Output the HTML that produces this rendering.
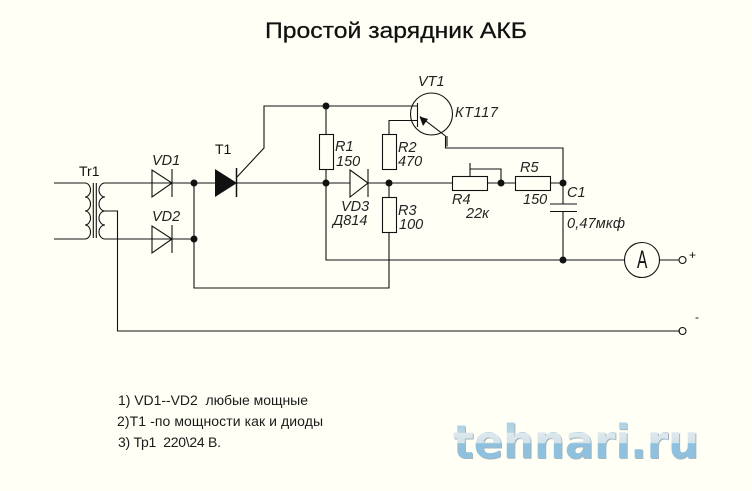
<!DOCTYPE html>
<html><head><meta charset="utf-8"><style>html,body{margin:0;padding:0;background:#fffff6}svg{display:block}text{font-family:"Liberation Sans",sans-serif;fill:#111}.i{font-style:italic;font-size:14.5px;fill:#222}.n{font-size:14px;fill:#1a1a1a;white-space:pre}</style></head><body>
<svg width="752" height="491" viewBox="0 0 752 491" xmlns="http://www.w3.org/2000/svg">
<defs><linearGradient id="g" x1="0" y1="420" x2="0" y2="459" gradientUnits="userSpaceOnUse"><stop offset="0" stop-color="#a9cfe3"/><stop offset=".32" stop-color="#b6d5e4"/><stop offset=".34" stop-color="#dde8ec"/><stop offset=".59" stop-color="#d3e3ea"/><stop offset=".6" stop-color="#8fc1df"/><stop offset="1" stop-color="#8fc1df"/></linearGradient></defs>
<rect width="752" height="491" fill="#fffff6"/>
<text x="265" y="38" font-size="22" textLength="262" lengthAdjust="spacingAndGlyphs" stroke="#111" stroke-width=".25">Простой зарядник АКБ</text>
<g fill="none" stroke="#111" stroke-width="1.1">
<path d="M54 183H85A5.5 7 0 0 1 85 197A5.5 7 0 0 1 85 211A5.5 7 0 0 1 85 225A5.5 7 0 0 1 85 239H54"/>
<path d="M93.300 183V238M96.300 183V238"/>
<path d="M105 183A6 7 0 0 0 105 197A6 7 0 0 0 105 211A6 7 0 0 0 105 225A6 7 0 0 0 105 239"/>
<path d="M105 183H320M105 239H172M105 211H117.500V331H680"/>
<path d="M152 170V197L172 183ZM172 169V197"/>
<path d="M152 226V253L172 239ZM172 225V253M172 239H194V183M194 239V288H389V183"/>
<path d="M237 177L264 148V106H412"/>
<path d="M326 106V134M326 169V260H625M320 183H350"/>
<rect x="319.500" y="134.500" width="14" height="35" fill="#fffff6"/>
<path d="M350 170V197L368 183ZM368 169V197M368 183H452"/>
<rect x="382.500" y="134.500" width="14" height="35" fill="#fffff6"/>
<rect x="382.500" y="197.500" width="14" height="35" fill="#fffff6"/>
<path d="M389 134V120.500H412"/>
<circle cx="431.500" cy="114" r="21"/>
<path d="M417.500 103V127M412 106H418M412 120.500H418"/>
<path d="M420 116.500L445.500 136M445.500 136V148H563V204M447 136V146.500"/>
<rect x="452.500" y="176.500" width="35" height="14" fill="#fffff6"/>
<path d="M470 176V163M470 169H501V183M487.500 183H515"/>
<rect x="515.500" y="176.500" width="35" height="14" fill="#fffff6"/>
<path d="M550 183H563M550 204H577M550 211.500H577M563 211.500V260"/>
<path d="M563 260H625"/>
<circle cx="642" cy="260" r="17.500"/>
<path d="M659.500 260H679"/>
<circle cx="682.500" cy="260" r="3.500"/>
<circle cx="682.500" cy="331" r="3.500"/>
</g>
<path d="M215 169V197L237 183Z" fill="#111"/>
<path d="M236.500 168V197" stroke="#111" stroke-width="1.500"/>
<path d="M419.500 116.500L428 119L423 126Z" fill="#111"/>
<g fill="#111"><circle cx="194" cy="183" r="3.500"/><circle cx="194" cy="239" r="3.500"/><circle cx="326" cy="106" r="3.500"/><circle cx="326" cy="183" r="3.500"/><circle cx="389" cy="183" r="3.500"/><circle cx="501" cy="183" r="3.500"/><circle cx="563" cy="183" r="3.500"/><circle cx="563" cy="260" r="3.500"/></g>
<text x="79" y="176" font-size="14">Tr1</text>
<text x="152" y="165" class="i">VD1</text>
<text x="152" y="221" class="i">VD2</text>
<text x="215" y="154" font-size="14">T1</text>
<text x="418" y="86" class="i">VT1</text>
<text x="455" y="117" class="i" textLength="43">КТ117</text>
<text x="335" y="151" class="i">R1</text>
<text x="336" y="166" class="i">150</text>
<text x="398" y="152" class="i">R2</text>
<text x="398" y="166" class="i">470</text>
<text x="398" y="215" class="i">R3</text>
<text x="399" y="229" class="i">100</text>
<text x="341" y="211" class="i">VD3</text>
<text x="333" y="225" class="i">Д814</text>
<text x="452" y="204" class="i">R4</text>
<text x="466" y="218" class="i">22к</text>
<text x="520" y="172" class="i">R5</text>
<text x="523" y="204" class="i">150</text>
<text x="567" y="197" class="i">C1</text>
<text x="567" y="228" class="i" textLength="58">0,47мкф</text>
<text transform="translate(637 268) scale(.62 1)" font-size="25" fill="#222">A</text>
<text x="689" y="259" font-size="12">+</text>
<text x="695" y="321" font-size="12">-</text>
<text x="118" y="405" class="n" textLength="190" xml:space="preserve">1) VD1--VD2  любые мощные</text>
<text x="117" y="426" class="n" textLength="206" xml:space="preserve">2)T1 -по мощности как и диоды</text>
<text x="118" y="447" class="n" textLength="103" xml:space="preserve">3) Тр1  220\24 В.</text>
<text x="454" y="459" font-size="46" font-weight="700" textLength="246" lengthAdjust="spacingAndGlyphs" style="font-family:'DejaVu Sans',sans-serif;fill:#a3b4bd">tehnari.ru</text>
<text x="453" y="458" font-size="46" font-weight="700" textLength="246" lengthAdjust="spacingAndGlyphs" style="font-family:'DejaVu Sans',sans-serif;fill:url(#g)">tehnari.ru</text>
</svg>
</body></html>
